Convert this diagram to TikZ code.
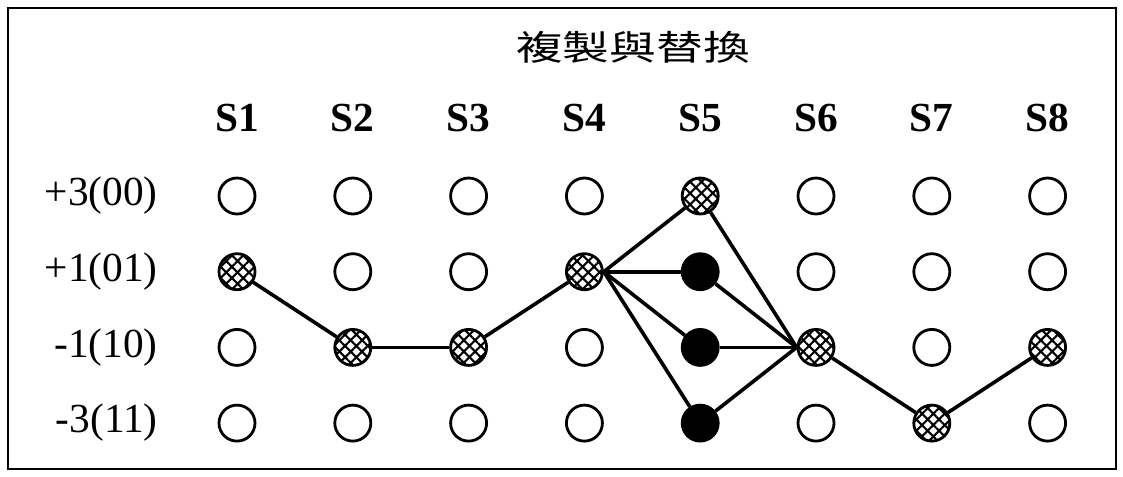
\documentclass[tikz,border=0pt]{standalone}
\usepackage{fontspec}
\setmainfont{Liberation Serif}
\newfontfamily\cjk{Noto Sans CJK TC}
\usetikzlibrary{patterns.meta}

\tikzset{
	empty_node/.style={circle,draw,line width=2.1pt,minimum size=27pt,inner sep=0pt},
	hatch_node/.style={empty_node,pattern={Lines[angle=45,distance=6pt,line width=1.6pt]},
		postaction={pattern={Lines[angle=-45,distance=6pt,line width=1.6pt]}}},
	solid_node/.style={empty_node,fill=black},
	state_label/.style={font=\fontsize{31}{33}\selectfont\bfseries,inner sep=0pt},
	level_label/.style={font=\fontsize{31}{33}\selectfont,inner sep=0pt,anchor=east},
	path_line/.style={line width=2.7pt}
}

\begin{document}
\begin{tikzpicture}[x=0.75pt,y=-0.75pt]
		\useasboundingbox (0,0) rectangle (1123,476);
		\draw[line width=1.8pt] (8,8) rectangle (1116,469);

		\node[font=\fontsize{26}{28}\selectfont\cjk,xscale=1.35] (title) at (633,47) {複製與替換};

		% levels
		\node[level_label] (l1) at (158,196) {+3(00)};
		\node[level_label] (l2) at (158,272) {+1(01)};
		\node[level_label] (l3) at (158,348) {-1(10)};
		\node[level_label] (l4) at (158,423) {-3(11)};

		% states, column \i has its chosen level at row \h
		\foreach \i/\h in {1/2,2/3,3/3,4/2,5/1,6/3,7/4,8/3}{
			\node[state_label] (s\i) at ({237+(\i-1)*115.8},118) {S\i};
			\foreach \j in {1,...,4}{
				\def\kind{empty_node}
				\ifnum\j=\h \def\kind{hatch_node}\else\ifnum\i=5 \def\kind{solid_node}\fi\fi
				\node[\kind] (n\i\j) at ({237+(\i-1)*115.8},{196+(\j-1)*75.7}) {};
			}
		}

		\draw[path_line] (n12) -- (n23);
		\draw[path_line] (n23) -- (n33);
		\draw[path_line] (n33) -- (n42);
		\foreach \j in {1,...,4}{
			\draw[path_line] (n42.east) -- (n5\j);
			\draw[path_line] (n5\j) -- (n63.west);
		}
		\draw[path_line] (n63) -- (n74);
		\draw[path_line] (n74) -- (n83);
		\end{tikzpicture}
\end{document}
